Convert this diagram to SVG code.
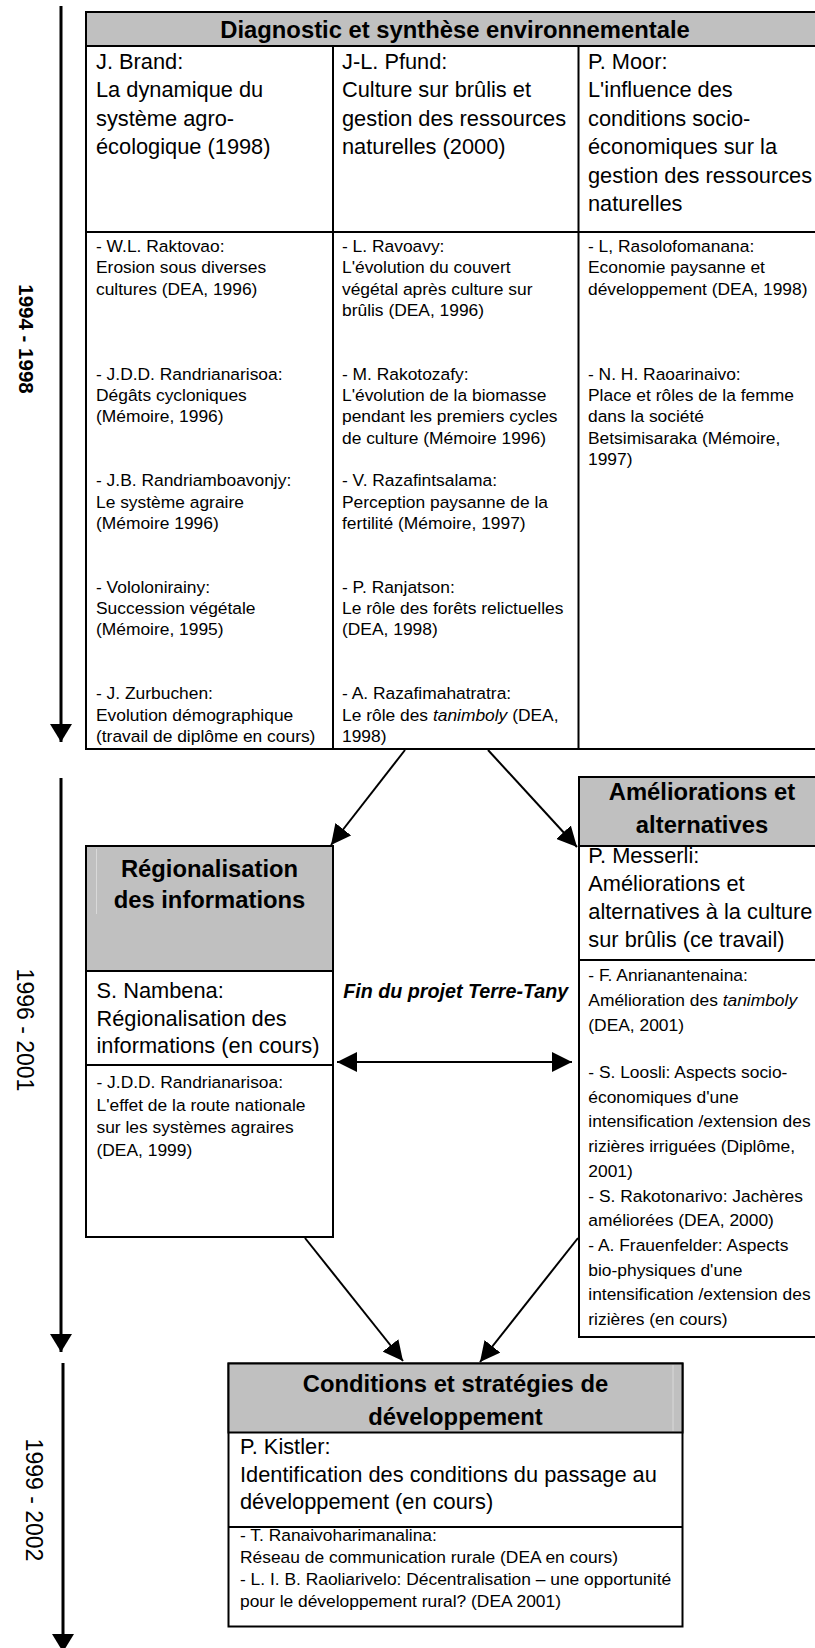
<svg xmlns="http://www.w3.org/2000/svg" width="815" height="1648" viewBox="0 0 815 1648">
<defs>
<style>
.box{fill:#fff;stroke:#000;stroke-width:2}
.hdr{fill:#c0c0c0;stroke:#000;stroke-width:2}
.ln{stroke:#000;stroke-width:2;fill:none}
.faint{stroke:#d9d9d9;stroke-width:1}
text{font-family:"Liberation Sans",Arial,sans-serif;fill:#000}
.big{font-size:21.8px}
.sm{font-size:17.4px}
.hd{font-size:23.8px;font-weight:bold;text-anchor:middle}
.it{font-style:italic}
.fin{font-size:19.7px;font-weight:bold;font-style:italic}
.yr{font-size:23px;text-anchor:middle}
.yrb{font-size:20.5px;font-weight:bold;text-anchor:middle}
.conn{stroke:#000;stroke-width:2;fill:none}
.tl{stroke:#000;stroke-width:3;fill:none}
</style>
<marker id="ah" viewBox="0 0 20 20" refX="20" refY="10" markerWidth="20" markerHeight="20" markerUnits="userSpaceOnUse" orient="auto-start-reverse"><path d="M0,0 L20,10 L0,20 z" fill="#000"/></marker>
<marker id="tah" viewBox="0 0 18 22" refX="18" refY="11" markerWidth="18" markerHeight="22" markerUnits="userSpaceOnUse" orient="auto"><path d="M0,0 L18,11 L0,22 z" fill="#000"/></marker>
</defs>
<rect width="815" height="1648" fill="#fff"/>

<g id="timeline">
<line class="tl" x1="61" y1="6" x2="61" y2="742" marker-end="url(#tah)"/>
<line class="tl" x1="61" y1="778" x2="61" y2="1352" marker-end="url(#tah)"/>
<line class="tl" x1="63" y1="1363" x2="63" y2="1652" marker-end="url(#tah)"/>
<text class="yrb" transform="translate(19,339) rotate(90)">1994 - 1998</text>
<text class="yr" transform="translate(17,1030) rotate(90)">1996 - 2001</text>
<text class="yr" transform="translate(26,1500) rotate(90)">1999 - 2002</text>
</g>

<g id="diagnostic">
<rect class="box" x="86" y="12" width="740" height="737"/>
<rect class="hdr" x="86" y="12" width="740" height="34"/>
<line class="ln" x1="333" y1="46" x2="333" y2="749"/>
<line class="ln" x1="578.5" y1="46" x2="578.5" y2="749"/>
<line class="ln" x1="86" y1="232" x2="826" y2="232"/>
<text class="hd" x="455" y="37.5">Diagnostic et synthèse environnementale</text>
<g class="big">
<text x="96" y="69">J. Brand:</text>
<text x="96" y="97.4">La dynamique du</text>
<text x="96" y="125.8">système agro-</text>
<text x="96" y="154.2">écologique (1998)</text>
<text x="342" y="69">J-L. Pfund:</text>
<text x="342" y="97.4">Culture sur brûlis et</text>
<text x="342" y="125.8">gestion des ressources</text>
<text x="342" y="154.2">naturelles (2000)</text>
<text x="588" y="69">P. Moor:</text>
<text x="588" y="97.4">L'influence des</text>
<text x="588" y="125.8">conditions socio-</text>
<text x="588" y="154.2">économiques sur la</text>
<text x="588" y="182.6">gestion des ressources</text>
<text x="588" y="211">naturelles</text>
</g>
<g class="sm">
<text x="96" y="252">- W.L. Raktovao:</text>
<text x="96" y="273.3">Erosion sous diverses</text>
<text x="96" y="294.6">cultures (DEA, 1996)</text>
<text x="96" y="379.8">- J.D.D. Randrianarisoa:</text>
<text x="96" y="401.1">Dégâts cycloniques</text>
<text x="96" y="422.4">(Mémoire, 1996)</text>
<text x="96" y="486.3">- J.B. Randriamboavonjy:</text>
<text x="96" y="507.6">Le système agraire</text>
<text x="96" y="528.9">(Mémoire 1996)</text>
<text x="96" y="592.8">- Vololonirainy:</text>
<text x="96" y="614.1">Succession végétale</text>
<text x="96" y="635.4">(Mémoire, 1995)</text>
<text x="96" y="699.3">- J. Zurbuchen:</text>
<text x="96" y="720.6">Evolution démographique</text>
<text x="96" y="741.9">(travail de diplôme en cours)</text>

<text x="342" y="252">- L. Ravoavy:</text>
<text x="342" y="273.3">L'évolution du couvert</text>
<text x="342" y="294.6">végétal après culture sur</text>
<text x="342" y="315.9">brûlis (DEA, 1996)</text>
<text x="342" y="379.8">- M. Rakotozafy:</text>
<text x="342" y="401.1">L'évolution de la biomasse</text>
<text x="342" y="422.4">pendant les premiers cycles</text>
<text x="342" y="443.7">de culture (Mémoire 1996)</text>
<text x="342" y="486.3">- V. Razafintsalama:</text>
<text x="342" y="507.6">Perception paysanne de la</text>
<text x="342" y="528.9">fertilité (Mémoire, 1997)</text>
<text x="342" y="592.8">- P. Ranjatson:</text>
<text x="342" y="614.1">Le rôle des forêts relictuelles</text>
<text x="342" y="635.4">(DEA, 1998)</text>
<text x="342" y="699.3">- A. Razafimahatratra:</text>
<text x="342" y="720.6">Le rôle des <tspan class="it">tanimboly</tspan> (DEA,</text>
<text x="342" y="741.9">1998)</text>

<text x="588" y="252">- L, Rasolofomanana:</text>
<text x="588" y="273.3">Economie paysanne et</text>
<text x="588" y="294.6">développement (DEA, 1998)</text>
<text x="588" y="379.8">- N. H. Raoarinaivo:</text>
<text x="588" y="401.1">Place et rôles de la femme</text>
<text x="588" y="422.4">dans la société</text>
<text x="588" y="443.7">Betsimisaraka (Mémoire,</text>
<text x="588" y="465">1997)</text>
</g>
</g>

<g id="regionalisation">
<rect class="box" x="86" y="846" width="247" height="391"/>
<rect class="hdr" x="86" y="846" width="247" height="125"/>
<line class="faint" x1="96.5" y1="849" x2="96.5" y2="914"/>
<line class="ln" x1="86" y1="1065" x2="333" y2="1065"/>
<text class="hd" x="209.5" y="877">Régionalisation</text>
<text class="hd" x="209.5" y="908">des informations</text>
<g class="big">
<text x="96.5" y="998">S. Nambena:</text>
<text x="96.5" y="1026">Régionalisation des</text>
<text x="96.5" y="1053">informations (en cours)</text>
</g>
<g class="sm">
<text x="96.5" y="1088">- J.D.D. Randrianarisoa:</text>
<text x="96.5" y="1110.5">L'effet de la route nationale</text>
<text x="96.5" y="1133">sur les systèmes agraires</text>
<text x="96.5" y="1155.5">(DEA, 1999)</text>
</g>
</g>

<g id="ameliorations">
<rect class="box" x="579" y="777" width="247" height="560"/>
<rect class="hdr" x="579" y="777" width="247" height="69"/>
<line class="ln" x1="579" y1="960" x2="826" y2="960"/>
<text class="hd" x="702" y="800">Améliorations et</text>
<text class="hd" x="702" y="833">alternatives</text>
<g class="big">
<text x="588.3" y="863">P. Messerli:</text>
<text x="588.3" y="891">Améliorations et</text>
<text x="588.3" y="919">alternatives à la culture</text>
<text x="588.3" y="947">sur brûlis (ce travail)</text>
</g>
<g class="sm">
<text x="588.3" y="981">- F. Anrianantenaina:</text>
<text x="588.3" y="1006">Amélioration des <tspan class="it">tanimboly</tspan></text>
<text x="588.3" y="1031">(DEA, 2001)</text>
<text x="588.3" y="1078">- S. Loosli: Aspects socio-</text>
<text x="588.3" y="1102.7">économiques d'une</text>
<text x="588.3" y="1127.4">intensification /extension des</text>
<text x="588.3" y="1152.1">rizières irriguées (Diplôme,</text>
<text x="588.3" y="1176.8">2001)</text>
<text x="588.3" y="1201.5">- S. Rakotonarivo: Jachères</text>
<text x="588.3" y="1226.2">améliorées (DEA, 2000)</text>
<text x="588.3" y="1250.9">- A. Frauenfelder: Aspects</text>
<text x="588.3" y="1275.6">bio-physiques d'une</text>
<text x="588.3" y="1300.3">intensification /extension des</text>
<text x="588.3" y="1325">rizières (en cours)</text>
</g>
</g>

<g id="fin-projet">
<text class="fin" x="343.3" y="998">Fin du projet Terre-Tany</text>
</g>

<g id="conditions">
<rect class="box" x="228.5" y="1363.5" width="454" height="263"/>
<rect class="hdr" x="228.5" y="1363.5" width="454" height="69"/>
<line class="faint" x1="673" y1="1365" x2="673" y2="1431"/>
<line class="ln" x1="228.5" y1="1527" x2="682.5" y2="1527"/>
<text class="hd" x="455.5" y="1392">Conditions et stratégies de</text>
<text class="hd" x="455.5" y="1424.5">développement</text>
<g class="big">
<text x="240" y="1453.5">P. Kistler:</text>
<text x="240" y="1481.5">Identification des conditions du passage au</text>
<text x="240" y="1508.5">développement (en cours)</text>
</g>
<g class="sm">
<text x="240" y="1540.5">- T. Ranaivoharimanalina:</text>
<text x="240" y="1562.5">Réseau de communication rurale (DEA en cours)</text>
<text x="240" y="1584.5">- L. I. B. Raoliarivelo: Décentralisation – une opportunité</text>
<text x="240" y="1606.5">pour le développement rural? (DEA 2001)</text>
</g>
</g>

<g id="connectors">
<line class="conn" x1="405" y1="750" x2="331" y2="845" marker-end="url(#ah)"/>
<line class="conn" x1="488" y1="750" x2="577" y2="847" marker-end="url(#ah)"/>
<line class="conn" x1="337" y1="1062" x2="572" y2="1062" marker-start="url(#ah)" marker-end="url(#ah)"/>
<line class="conn" x1="305" y1="1238" x2="403" y2="1361" marker-end="url(#ah)"/>
<line class="conn" x1="578" y1="1238" x2="480" y2="1362" marker-end="url(#ah)"/>
</g>
</svg>
